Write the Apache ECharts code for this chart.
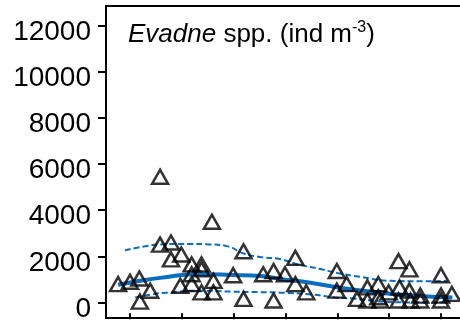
<!DOCTYPE html>
<html><head><meta charset="utf-8">
<script src="https://cdn.jsdelivr.net/npm/echarts@6/dist/echarts.min.js"></script>
<style>html,body{margin:0;padding:0;background:#fff}#c{width:460px;height:323px}</style>
</head><body><div id="c"></div>
<script>
// observations: [x position, density]
const obsX = [-0.23,0.0,0.18,0.39,0.19,0.58,0.58,0.79,0.79,0.99,1.19,1.38,1.19,1.38,0.97,1.19,1.38,1.61,1.61,1.58,1.99,2.19,2.19,2.57,2.77,2.77,3.19,2.99,3.19,3.40,3.99,4.18,3.99,4.38,4.58,4.79,4.58,4.79,4.99,5.18,5.39,5.20,5.39,5.18,5.60,5.60,6.00,6.00,6.00,6.21,4.83,5.41];
const obsY = [800,900,1040,510,40,5450,2510,2600,1870,2080,1650,1650,1225,1440,726,798,440,940,440,3500,1183,2220,158,1225,1366,85,1934,1225,798,440,1366,798,512,158,653,798,85,226,440,1793,1439,653,512,85,300,85,1183,300,85,371,85,85];
// fitted curve and confidence band
const fitX = [-0.23,0.19,0.58,1.35,1.99,2.51,2.90,3.48,4.05,4.63,5.02,5.60,6.22];
const fitY = [769,940,1068,1238,1196,1153,1025,854,640,470,384,278,213];
const upX = [-0.10,0.29,0.58,1.16,1.54,1.89,2.18,2.55,2.90,3.22,3.67,4.00,4.44,5.02,5.60,6.12];
const upY = [2263,2434,2519,2540,2519,2434,2135,1964,1879,1665,1452,1281,1110,939,918,939];
const loX = [0.10,0.39,0.71,1.35,1.99,2.51,2.90,3.53,3.96,4.31,4.63,5.02,5.60,6.18];
const loY = [213,342,427,512,470,448,427,342,213,171,85,21,0,0];
const yTicks = [0,2000,4000,6000,8000,10000,12000];
const xTicks = [0,1,2,3,4,5,6];
const titleMain = 'Evadne';
const titleRest = ' spp. (ind m';
const titleSup = '-3';

const zip = (a,b)=>a.map((v,i)=>[v,b[i]]);
const blue = '#0A6EC0';
const chart = echarts.init(document.getElementById('c'), null, {renderer:'canvas'});
chart.setOption({
  animation:false,
  grid:{left:106,right:0,top:6,bottom:5,containLabel:false,show:false},
  graphic:[
    {type:'line',shape:{x1:105,y1:6,x2:460,y2:6},style:{stroke:'#000',lineWidth:2},z:10},
    {type:'line',shape:{x1:106,y1:5,x2:106,y2:319},style:{stroke:'#000',lineWidth:2},z:10},
    {type:'line',shape:{x1:105,y1:318,x2:460,y2:318},style:{stroke:'#000',lineWidth:2},z:10}
  ],
  title:{
    left:128, top:20, padding:0,
    text:'{i|'+titleMain+'}{n|'+titleRest+'}{s|'+titleSup+'}{n|)}',
    textStyle:{
      fontWeight:'normal',
      rich:{
        i:{fontFamily:'Liberation Sans',fontStyle:'italic',fontWeight:'normal',fontSize:26,color:'#000',lineHeight:30},
        n:{fontFamily:'Liberation Sans',fontWeight:'normal',fontSize:26,color:'#000',lineHeight:30},
        s:{fontFamily:'Liberation Sans',fontWeight:'normal',fontSize:16,color:'#000',lineHeight:30,verticalAlign:'top',padding:[0,0,12,0]}
      }
    }
  },
  xAxis:{
    type:'value', min:-0.463, max:6.367,
    axisLine:{show:false,onZero:false},
    axisTick:{show:true,length:6,lineStyle:{color:'#000',width:2},customValues:xTicks},
    axisLabel:{show:false},
    splitLine:{show:false}
  },
  yAxis:{
    type:'value', position:'left', min:-470, max:12854,
    axisLine:{show:false,onZero:false},
    axisTick:{show:true,length:8,lineStyle:{color:'#000',width:2},customValues:yTicks},
    axisLabel:{show:true,customValues:yTicks,margin:15,color:'#000',
      formatter:v=>'{a|'+v+'}',
      rich:{a:{fontFamily:'Liberation Sans',fontSize:28,color:'#000',padding:[13,0,0,0]}}},
    splitLine:{show:false}
  },
  series:[
    {type:'line',data:zip(upX,upY),smooth:0.5,symbol:'none',lineStyle:{color:blue,width:2,type:[6,3]},z:3},
    {type:'line',data:zip(loX,loY),smooth:0.5,symbol:'none',lineStyle:{color:blue,width:2,type:[6,3]},z:3},
    {type:'line',data:zip(fitX,fitY),smooth:0.5,symbol:'none',lineStyle:{color:blue,width:4},z:3},
    {type:'scatter',data:zip(obsX,obsY),symbol:'triangle',symbolSize:[16,14],
     itemStyle:{color:'rgba(0,0,0,0)',borderColor:'#000',borderWidth:2.5},z:4}
  ]
});
</script></body></html>
